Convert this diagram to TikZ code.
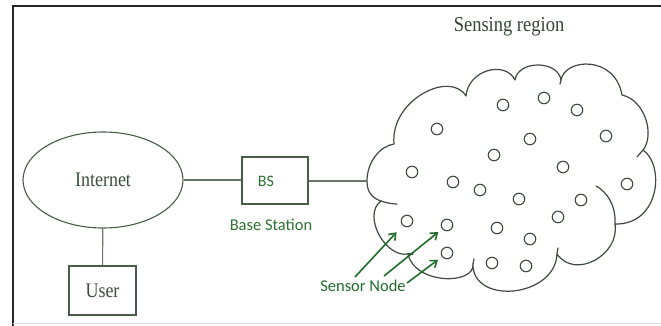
\documentclass[tikz,border=0pt]{standalone}
\usepackage{fontspec}
\setmainfont{Liberation Serif}
\newfontfamily\carl{Carlito}
\usetikzlibrary{shapes.geometric,arrows.meta}
\definecolor{edgecol}{RGB}{72,92,72}
\definecolor{wirecol}{RGB}{105,118,105}
\definecolor{txtcol}{RGB}{58,78,58}
\definecolor{greentxt}{RGB}{45,112,50}
\definecolor{arrgreen}{RGB}{32,108,42}
\definecolor{cloudcol}{RGB}{62,74,62}
\newcommand{\tallish}[1]{\scalebox{1}[1.15]{#1}}
\begin{document}
\begin{tikzpicture}[x=1pt,y=-1pt,
  boxnode/.style={draw=edgecol,line width=1.1pt,inner sep=0pt,text=txtcol},
  wire/.style={draw=wirecol,line width=1.1pt},
  sensor/.style={circle,draw=cloudcol,line width=1.1pt,minimum size=11.5pt,inner sep=0pt},
  cloudline/.style={draw=cloudcol,line width=1.2pt,line cap=round,line join=round},
  garrow/.style={draw=arrgreen,line width=1.6pt,-{Straight Barb[length=6pt,width=9pt]}},
  serif18/.style={font=\fontsize{18}{20}\selectfont},
  greenlbl/.style={font=\carl\fontsize{16.5}{18}\selectfont,text=greentxt,inner sep=0pt}]
\useasboundingbox (0,0) rectangle (661,326);
% frame
\draw[black!85,line width=1.8pt] (13,326) -- (13,6) -- (661,6);
\draw[black!12,line width=0.8pt] (13,323.5) -- (661,323.5);
% main nodes
\node[boxnode,ellipse,minimum width=160pt,minimum height=96pt,serif18] (inet) at (103,180) {\tallish{Internet}};
\node[boxnode,minimum width=67pt,minimum height=49pt,serif18] (user) at (102.5,290.5) {\tallish{User}};
\node[boxnode,minimum width=66pt,minimum height=47pt] (bs) at (275,180.5) {};
\node[font=\carl\fontsize{16}{18}\selectfont,text=txtcol!80!green,inner sep=0pt] (bstxt) at (266,181.5) {BS};
\node[greenlbl] (bslbl) at (271,225) {Base Station};
\node[font=\fontsize{18.5}{20}\selectfont,text=txtcol!90!black,inner sep=0pt] (region) at (509,27) {\tallish{Sensing region}};
\node[greenlbl,text=arrgreen] (snlbl) at (363,286) {Sensor Node};
% cloud
\coordinate (cl) at (367,181);
\draw[cloudline] (cl) .. controls (367,162) and (380,146) .. (394,144)
 .. controls (390,100) and (450,70) .. (466,96)
 .. controls (468,70) and (505,60) .. (515,80)
 .. controls (518,60) and (558,60) .. (561,80)
 .. controls (565,58) and (615,55) .. (622,95)
 .. controls (645,100) and (655,135) .. (643,150)
 .. controls (665,165) and (660,225) .. (615,224)
 .. controls (620,255) and (575,280) .. (557,254)
 .. controls (555,298) and (472,305) .. (473,264)
 .. controls (475,285) and (415,285) .. (408,254)
 .. controls (385,258) and (362,215) .. (381,201)
 .. controls (372,198) and (367,192) .. (cl);
% hooks of the hand drawn cloud
\draw[cloudline] (615,224) .. controls (616,205) and (607,192) .. (596,186);
\draw[cloudline] (381,201) .. controls (387,203) and (392,204) .. (397,204);
\draw[cloudline] (643,150) -- (637,157);
\draw[cloudline] (557,254) -- (558,248);
\draw[cloudline] (473,264) -- (474,259);
\draw[cloudline] (408,254) -- (413,254);
\draw[cloudline] (561,80) -- (560,84);
% connectors
\draw[wire] (inet) -- (user);
\draw[wire] (inet.east) -- (bs.west |- inet.east);
\draw[wire] (bs.east |- cl) -- (cl);
% sensor nodes
\foreach \i/\x/\y in {1/437/129,2/503/105,3/544/98,4/577/110,5/606/136,6/530/139,
  7/494/155,8/563/167,9/412/172,10/453/182,11/480/190,12/519/199,13/581/200,
  14/627/184,15/558/217,16/407/221,17/447/225,18/497/228,19/530/239,
  20/447/253,21/492/263,22/526/266}
  \node[sensor] (s\i) at (\x,\y) {};
% arrows
\coordinate (t1) at (355,277);
\coordinate (t2) at (384,276);
\coordinate (t3) at (407,283);
\draw[garrow,shorten >=9pt] (t1) -- (s16);
\draw[garrow,shorten >=5pt] (t2) -- (s17);
\draw[garrow,shorten >=5pt] (t3) -- (s20);
\end{tikzpicture}
\end{document}
